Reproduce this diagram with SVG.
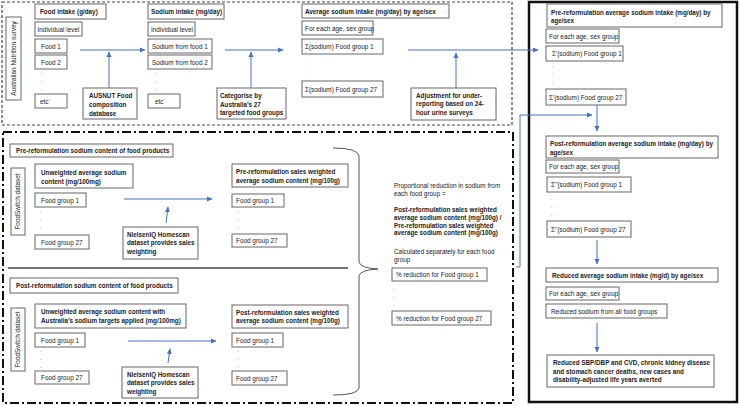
<svg xmlns="http://www.w3.org/2000/svg" width="740" height="406" viewBox="0 0 740 406">
<defs>
<marker id="ah" markerWidth="6" markerHeight="6" refX="5" refY="3" orient="auto" markerUnits="userSpaceOnUse">
<path d="M0,0.5 L5.5,3 L0,5.5 Z" fill="#4472C4"/>
</marker>
<style>
text{font-family:"Liberation Sans",Arial,sans-serif;font-size:6.4px;fill:#222}
.b{font-weight:bold;font-size:6.3px}
.bx{fill:#fff;stroke:#666;stroke-width:1}
.c{fill:none;stroke:#4472C4;stroke-width:1;marker-end:url(#ah)}
.d{font-size:6px}
</style>
</defs>
<rect width="740" height="406" fill="#fff"/>

<g id="frames">
<rect x="2" y="2" width="510" height="123" fill="none" stroke="#444" stroke-width="1.2" stroke-dasharray="3,2"/>
<rect x="3" y="132" width="510" height="271" fill="none" stroke="#111" stroke-width="2" stroke-dasharray="9,3,2,3"/>
<rect x="529" y="2" width="208" height="400" fill="none" stroke="#111" stroke-width="2.5"/>
<line x1="8" y1="268" x2="348" y2="268" stroke="#444" stroke-width="1.5"/>
<path d="M333,148 Q358,148 359,156 L359,262 Q360,268 378,269 Q360,270 359,276 L359,388 Q358,395 333,395" fill="none" stroke="#555" stroke-width="1"/>
</g>

<g id="n-survey"><rect class="bx" x="6" y="17" width="15" height="83"/><text transform="translate(15.5,58.5) rotate(-90)" text-anchor="middle">Australian  Nutrition survey</text></g>
<g id="n-food-intake"><rect class="bx" x="35" y="4" width="71" height="15"/><text class="b" x="40" y="14">Food intake (g/day)</text></g>
<g id="n-ind1"><rect class="bx" x="35" y="22" width="47" height="14"/><text x="37.5" y="31.5">Individual level</text></g>
<g id="n-food1"><rect class="bx" x="35" y="39" width="32" height="14"/><text x="41" y="48.5">Food 1</text></g>
<g id="n-food2"><rect class="bx" x="35" y="55" width="32" height="14"/><text x="41" y="64.5">Food 2</text></g>
<g id="n-dots1"><text class="d" x="41" y="74">.</text><text class="d" x="41" y="82">.</text><text class="d" x="41" y="90">.</text></g>
<g id="n-etc1"><rect class="bx" x="35" y="94" width="32" height="14"/><text x="40" y="103.5">etc`</text></g>
<g id="n-ausnut"><rect class="bx" x="83" y="88" width="54" height="31"/><text class="b" x="89" y="98">AUSNUT Food</text><text class="b" x="89" y="107">composition</text><text class="b" x="89" y="115.5">database</text></g>

<g id="n-sodium-intake"><rect class="bx" x="148" y="4" width="76" height="15"/><text class="b" x="151" y="14">Sodium intake (mg/day)</text></g>
<g id="n-ind2"><rect class="bx" x="148" y="22" width="47" height="14"/><text x="151" y="31.5">Individual level</text></g>
<g id="n-sfood1"><rect class="bx" x="148" y="39" width="64" height="14"/><text x="152" y="48.5">Sodium from food 1</text></g>
<g id="n-sfood2"><rect class="bx" x="148" y="55" width="64" height="14"/><text x="152" y="64.5">Sodium from food 2</text></g>
<g id="n-dots2"><text class="d" x="155" y="74">.</text><text class="d" x="155" y="82">.</text><text class="d" x="155" y="90">.</text></g>
<g id="n-etc2"><rect class="bx" x="148" y="94" width="32" height="14"/><text x="155" y="103.5">etc`</text></g>
<g id="n-categorise"><rect class="bx" x="217" y="88" width="69" height="31"/><text class="b" x="220" y="98">Categorise by</text><text class="b" x="220" y="106.5">Australia’s 27</text><text class="b" x="220" y="115">targeted food groups</text></g>

<g id="n-average"><rect class="bx" x="302" y="4" width="147" height="14"/><text class="b" x="305" y="13.5">Average sodium intake (mg/day) by age/sex</text></g>
<g id="n-age1"><rect class="bx" x="302" y="21" width="71" height="14"/><text x="305" y="30.5">For each age, sex group</text></g>
<g id="n-sg1"><rect class="bx" x="302" y="39" width="81" height="15"/><text x="305" y="49">Σ(sodium) Food group 1</text></g>
<g id="n-dots3"><text class="d" x="306" y="60">.</text><text class="d" x="306" y="68">.</text><text class="d" x="306" y="76">.</text></g>
<g id="n-sg27"><rect class="bx" x="302" y="81" width="81" height="16"/><text x="305" y="91.5">Σ(sodium) Food group 27</text></g>
<g id="n-adjust"><rect class="bx" x="411" y="88" width="85" height="32"/><text class="b" x="416" y="97.5">Adjustment for under-</text><text class="b" x="416" y="106">reporting based on 24-</text><text class="b" x="416" y="114.5">hour urine surveys</text></g>

<g id="n-pre-avg"><rect class="bx" x="547" y="4" width="175" height="23"/><text class="b" x="551" y="14.5">Pre-reformulation average sodium intake (mg/day) by</text><text class="b" x="551" y="22.5">age/sex</text></g>
<g id="n-age2"><rect class="bx" x="546" y="29" width="73" height="14"/><text x="549" y="38.5">For each age, sex group</text></g>
<g id="n-p1"><rect class="bx" x="546" y="46" width="77" height="15"/><text x="552" y="56">Σ'(sodium) Food group 1</text></g>
<g id="n-dots4"><text class="d" x="552" y="67">.</text><text class="d" x="552" y="75">.</text><text class="d" x="552" y="83">.</text></g>
<g id="n-p27"><rect class="bx" x="546" y="89" width="80" height="16"/><text x="549" y="99.5">Σ'(sodium) Food group 27</text></g>
<g id="n-post-avg"><rect class="bx" x="546" y="136" width="172" height="22"/><text class="b" x="550" y="146">Post-reformulation average sodium intake (mg/day) by</text><text class="b" x="550" y="154.5">age/sex</text></g>
<g id="n-age3"><rect class="bx" x="546" y="160" width="73" height="13"/><text x="549" y="169">For each age, sex group</text></g>
<g id="n-q1"><rect class="bx" x="547" y="177" width="84" height="15"/><text x="551" y="187">Σ''(sodium) Food group 1</text></g>
<g id="n-dots5"><text class="d" x="551" y="200">.</text><text class="d" x="551" y="208">.</text><text class="d" x="551" y="216">.</text></g>
<g id="n-q27"><rect class="bx" x="547" y="221" width="84" height="16"/><text x="551" y="231.5">Σ''(sodium) Food group 27</text></g>
<g id="n-reduced"><rect class="bx" x="546" y="268" width="172" height="14"/><text class="b" x="552" y="277.5">Reduced average sodium intake (mg/d) by age/sex</text></g>
<g id="n-age4"><rect class="bx" x="546" y="287" width="73" height="13"/><text x="549" y="296">For each age, sex group</text></g>
<g id="n-allfg"><rect class="bx" x="546" y="304" width="121" height="14"/><text x="551" y="313.5">Reduced sodium from all food groups</text></g>
<g id="n-outcome"><rect class="bx" x="547" y="355" width="167" height="32"/><text class="b" x="553" y="365">Reduced SBP/DBP and CVD, chronic kidney disease</text><text class="b" x="553" y="373.5">and stomach cancer deaths, new cases and</text><text class="b" x="553" y="382">disability-adjusted life years averted</text></g>

<g id="n-pre-title"><rect class="bx" x="10" y="144" width="163" height="13"/><text class="b" x="16" y="152.5">Pre-reformulation sodium content of food products</text></g>
<g id="n-fs1"><rect class="bx" x="11" y="168" width="14" height="67"/><text transform="translate(20,201.5) rotate(-90)" text-anchor="middle">FoodSwitch dataset</text></g>
<g id="n-unw1"><rect class="bx" x="35" y="164" width="98" height="24"/><text class="b" x="41" y="174.5">Unweighted average sodium</text><text class="b" x="41" y="183.5">content (mg/100mg)</text></g>
<g id="n-fg1a"><rect class="bx" x="35" y="193" width="51" height="14"/><text x="41" y="202.5">Food group 1</text></g>
<g id="n-dots6"><text class="d" x="40" y="212">.</text><text class="d" x="40" y="220">.</text><text class="d" x="40" y="228">.</text></g>
<g id="n-fg27a"><rect class="bx" x="35" y="235" width="54" height="14"/><text x="41" y="244.5">Food group 27</text></g>
<g id="n-niq1"><rect class="bx" x="123" y="227" width="75" height="32"/><text class="b" x="127" y="236.5">NielsenIQ Homescan</text><text class="b" x="127" y="245">dataset provides sales</text><text class="b" x="127" y="253.5">weighting</text></g>
<g id="n-prew"><rect class="bx" x="232" y="164" width="116" height="23"/><text class="b" x="236" y="174">Pre-reformulation sales weighted</text><text class="b" x="236" y="182.5">average sodium content (mg/100g)</text></g>
<g id="n-fg1b"><rect class="bx" x="232" y="194" width="52" height="13"/><text x="236" y="203">Food group 1</text></g>
<g id="n-dots7"><text class="d" x="237" y="213">.</text><text class="d" x="237" y="221">.</text><text class="d" x="237" y="229">.</text></g>
<g id="n-fg27b"><rect class="bx" x="232" y="234" width="55" height="13"/><text x="236" y="243">Food group 27</text></g>

<g id="n-post-title"><rect class="bx" x="10" y="278" width="168" height="15"/><text class="b" x="16" y="287.5">Post-reformulation sodium content of food products</text></g>
<g id="n-fs2"><rect class="bx" x="11" y="308" width="14" height="63"/><text transform="translate(20,339.5) rotate(-90)" text-anchor="middle">FoodSwitch dataset</text></g>
<g id="n-unw2"><rect class="bx" x="35" y="304" width="151" height="24"/><text class="b" x="41" y="314">Unweighted average sodium content with</text><text class="b" x="41" y="323">Australia’s sodium targets applied (mg/100mg)</text></g>
<g id="n-fg1c"><rect class="bx" x="35" y="333" width="50" height="14"/><text x="41" y="342.5">Food group 1</text></g>
<g id="n-dots8"><text class="d" x="40" y="352">.</text><text class="d" x="40" y="360">.</text><text class="d" x="40" y="368">.</text></g>
<g id="n-fg27c"><rect class="bx" x="35" y="371" width="54" height="13"/><text x="41" y="380">Food group 27</text></g>
<g id="n-niq2"><rect class="bx" x="122" y="367" width="76" height="31"/><text class="b" x="127" y="376.5">NielsenIQ Homescan</text><text class="b" x="127" y="385">dataset provides sales</text><text class="b" x="127" y="393.5">weighting</text></g>
<g id="n-postw"><rect class="bx" x="232" y="305" width="116" height="23"/><text class="b" x="236" y="314.5">Post-reformulation sales weighted</text><text class="b" x="236" y="323">average sodium content (mg/100g)</text></g>
<g id="n-fg1d"><rect class="bx" x="232" y="333" width="51" height="14"/><text x="236" y="342.5">Food group 1</text></g>
<g id="n-dots9"><text class="d" x="237" y="352">.</text><text class="d" x="237" y="360">.</text><text class="d" x="237" y="368">.</text></g>
<g id="n-fg27d"><rect class="bx" x="232" y="371" width="55" height="14"/><text x="236" y="380.5">Food group 27</text></g>

<g id="n-formula">
<text x="394" y="188">Proportional reduction in sodium from</text>
<text x="394" y="196">each food group =</text>
<text class="b" x="394" y="212">Post-reformulation sales weighted</text>
<text class="b" x="394" y="220">average sodium content (mg/100g)  /</text>
<text class="b" x="394" y="227.5">Pre-reformulation sales weighted</text>
<text class="b" x="394" y="235">average sodium content (mg/100g)</text>
<text x="394" y="254">Calculated separately for each food</text>
<text x="394" y="262">group</text>
</g>
<g id="n-pct1"><rect class="bx" x="392" y="268" width="95" height="13"/><text x="396" y="277">% reduction for Food group 1</text></g>
<g id="n-dots10"><text class="d" x="393" y="290">.</text><text class="d" x="393" y="298">.</text><text class="d" x="393" y="306">.</text></g>
<g id="n-pct27"><rect class="bx" x="392" y="311" width="99" height="14"/><text x="396" y="320.5">% reduction for Food group 27</text></g>

<g id="connectors">
<line class="c" x1="80" y1="50" x2="145" y2="50"/>
<line class="c" x1="109" y1="88" x2="109" y2="52"/>
<line class="c" x1="225" y1="50" x2="283" y2="50"/>
<line class="c" x1="251" y1="88" x2="251" y2="52"/>
<line class="c" x1="408" y1="50" x2="538" y2="50"/>
<line class="c" x1="456" y1="88" x2="456" y2="53"/>
<line class="c" x1="597" y1="105" x2="597" y2="131"/>
<polyline class="c" points="516,267 520,267 520,115 592,115"/>
<line class="c" x1="597" y1="240" x2="597" y2="264"/>
<line class="c" x1="597" y1="323" x2="597" y2="352"/>
<line class="c" x1="124" y1="199" x2="212" y2="199"/>
<line class="c" x1="166" y1="223" x2="168" y2="207"/>
<line class="c" x1="128" y1="341" x2="216" y2="341"/>
<line class="c" x1="168" y1="363" x2="170" y2="349"/>
</g>
</svg>
